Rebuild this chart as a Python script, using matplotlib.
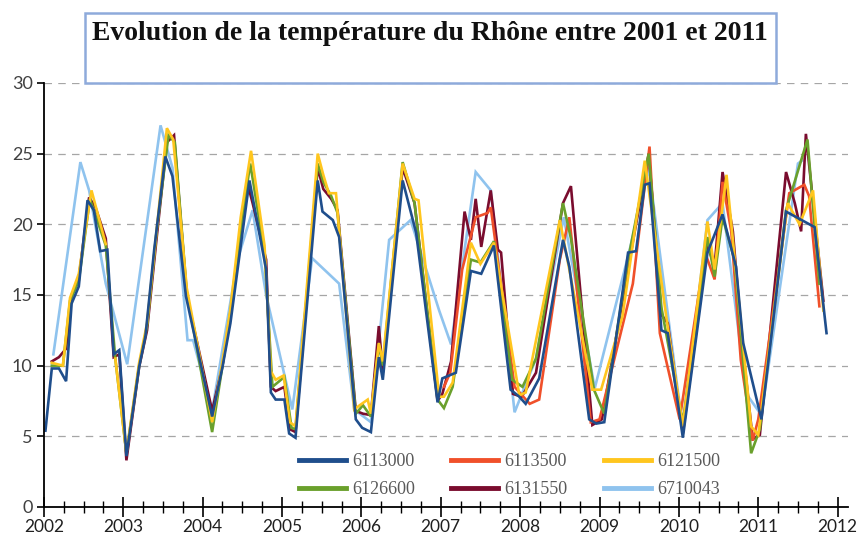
#importe as bibliotecas
import numpy as np
import matplotlib
matplotlib.use("Agg")
import matplotlib.pyplot as plt
from matplotlib.patches import Rectangle
from matplotlib.ticker import MultipleLocator

# températures mensuelles par station (date en année décimale, valeur en °C)
dates_6113000 = [2002.02, 2002.10, 2002.19, 2002.28, 2002.35, 2002.44, 2002.55, 2002.63, 2002.71, 2002.80,
                 2002.88, 2002.95, 2003.04, 2003.20, 2003.28, 2003.39, 2003.53, 2003.62, 2003.79, 2004.12,
                 2004.25, 2004.35, 2004.59, 2004.80, 2004.86, 2004.92, 2005.03, 2005.09, 2005.17, 2005.45,
                 2005.51, 2005.64, 2005.72, 2005.93, 2006.01, 2006.12, 2006.22, 2006.27, 2006.52, 2006.69,
                 2006.96, 2007.02, 2007.19, 2007.38, 2007.51, 2007.67, 2007.88, 2007.99, 2008.07, 2008.24,
                 2008.54, 2008.62, 2008.87, 2008.96, 2009.06, 2009.36, 2009.46, 2009.57, 2009.63, 2009.78,
                 2009.86, 2010.05, 2010.36, 2010.55, 2010.72, 2010.81, 2011.04, 2011.35, 2011.71, 2011.86]
temp_6113000 = [5.4, 9.8, 9.8, 8.9, 14.4, 15.6, 21.7, 21.0, 18.1, 18.2,
                10.8, 11.1, 3.6, 9.9, 12.1, 18.2, 24.8, 23.4, 14.9, 6.4,
                9.9, 13.0, 23.1, 16.8, 8.1, 7.6, 7.6, 5.2, 4.9, 23.1,
                20.9, 20.3, 19.1, 6.2, 5.6, 5.3, 10.6, 9.0, 23.1, 19.4,
                7.4, 9.1, 9.5, 16.7, 16.5, 18.5, 8.3, 7.8, 7.3, 9.1,
                18.9, 17.0, 6.2, 5.9, 6.0, 18.0, 18.1, 22.8, 22.9, 12.5,
                12.3, 4.9, 18.0, 20.7, 17.0, 11.6, 6.2, 20.9, 19.8, 12.3]

dates_6113500 = [2007.04, 2007.12, 2007.27, 2007.44, 2007.59, 2007.63, 2007.93, 2008.12, 2008.24, 2008.50,
                 2008.62, 2008.89, 2009.00, 2009.42, 2009.63, 2009.76, 2010.01, 2010.33, 2010.45, 2010.55,
                 2010.66, 2010.78, 2010.93, 2011.00, 2011.39, 2011.58, 2011.64, 2011.77]
temp_6113500 = [8.5, 9.5, 16.8, 20.5, 20.8, 21.2, 8.5, 7.3, 7.6, 17.5,
                20.5, 6.0, 6.2, 15.8, 25.5, 12.3, 6.2, 18.0, 16.1, 23.0,
                19.5, 10.4, 4.7, 6.2, 22.2, 22.8, 22.0, 14.2]

dates_6121500 = [2002.10, 2002.24, 2002.33, 2002.44, 2002.60, 2002.78, 2002.84, 2002.90, 2003.04, 2003.20,
                 2003.30, 2003.42, 2003.55, 2003.63, 2003.80, 2004.12, 2004.25, 2004.35, 2004.48, 2004.61,
                 2004.78, 2004.86, 2004.92, 2005.02, 2005.10, 2005.17, 2005.45, 2005.52, 2005.59, 2005.68,
                 2005.91, 2005.98, 2006.08, 2006.12, 2006.22, 2006.27, 2006.52, 2006.67, 2006.72, 2006.98,
                 2007.04, 2007.15, 2007.38, 2007.50, 2007.67, 2007.99, 2008.07, 2008.50, 2008.91, 2009.02,
                 2009.29, 2009.57, 2009.84, 2010.05, 2010.36, 2010.45, 2010.60, 2010.68, 2010.91, 2011.00,
                 2011.37, 2011.52, 2011.69, 2011.82]
temp_6121500 = [10.2, 10.0, 14.8, 16.5, 22.4, 18.6, np.nan, 10.5, 3.8, 10.2,
                13.0, 19.5, 26.8, 26.0, 15.5, 6.0, 10.3, 14.0, 20.5, 25.2,
                18.5, 9.6, 9.0, 9.3, 6.0, 5.7, 25.0, 23.5, 22.2, 22.2,
                6.9, 7.2, 7.6, 6.6, 11.6, 10.3, 24.3, 21.8, 21.7, 7.8,
                7.8, 8.8, 18.7, 17.2, 18.7, 7.9, 8.1, 20.3, 8.3, 8.3,
                13.5, 24.5, 13.5, 5.7, 20.2, 16.8, 23.5, 18.9, 5.7, 5.1,
                21.5, 20.0, 22.4, 13.9]

dates_6126600 = [2002.10, 2002.24, 2002.33, 2002.44, 2002.58, 2002.78, 2002.90, 2003.04, 2003.20, 2003.30,
                 2003.42, 2003.57, 2003.65, 2003.80, 2004.12, 2004.25, 2004.35, 2004.50, 2004.60, 2004.78,
                 2004.88, 2005.03, 2005.12, 2005.17, 2005.45, 2005.52, 2005.62, 2005.70, 2005.93, 2006.02,
                 2006.12, 2006.22, 2006.27, 2006.52, 2006.67, 2006.96, 2007.04, 2007.15, 2007.38, 2007.50,
                 2007.67, 2007.90, 2008.03, 2008.20, 2008.54, 2008.64, 2008.93, 2009.06, 2009.36, 2009.62,
                 2009.78, 2009.98, 2010.05, 2010.36, 2010.45, 2010.55, 2010.70, 2010.91, 2011.02, 2011.35,
                 2011.62, 2011.77]
temp_6126600 = [10.0, 10.0, 14.6, 16.0, 21.8, 18.5, 10.5, 3.8, 10.0, 12.8,
                19.5, 26.3, 25.8, 15.2, 5.3, 10.0, 13.8, 20.5, 24.3, 18.0,
                8.5, 9.2, 5.6, 5.5, 24.3, 23.0, 22.0, 20.8, 6.6, 7.2,
                6.4, 11.5, 10.0, 24.4, 21.5, 7.6, 7.0, 8.5, 17.5, 17.3,
                18.8, 9.0, 8.5, 10.5, 21.5, 19.0, 8.3, 6.6, 17.5, 25.0,
                14.1, 8.0, 6.0, 19.1, 16.3, 20.5, 17.5, 3.8, 5.5, 21.0,
                26.0, 15.8]

dates_6131550 = [2002.10, 2002.19, 2002.28, 2002.35, 2002.44, 2002.57, 2002.65, 2002.78, 2002.88, 2002.95,
                 2003.04, 2003.20, 2003.30, 2003.42, 2003.55, 2003.64, 2003.80, 2004.12, 2004.25, 2004.35,
                 2004.56, 2004.63, 2004.80, 2004.86, 2004.92, 2005.03, 2005.10, 2005.17, 2005.45, 2005.52,
                 2005.62, 2005.70, 2005.93, 2006.02, 2006.12, 2006.22, 2006.27, 2006.52, 2006.67, 2006.96,
                 2007.02, 2007.13, 2007.30, 2007.38, 2007.44, 2007.51, 2007.63, 2007.72, 2007.76, 2007.91,
                 2008.02, 2008.20, 2008.54, 2008.64, 2008.91, 2009.03, 2009.38, 2009.62, 2009.78, 2009.86,
                 2010.05, 2010.36, 2010.45, 2010.55, 2010.68, 2010.80, 2010.93, 2011.02, 2011.35, 2011.46,
                 2011.54, 2011.60, 2011.82]
temp_6131550 = [10.3, 10.6, 11.2, 15.0, 16.2, 21.9, 21.2, 19.0, 10.6, 10.8,
                3.3, 9.9, 12.5, 19.0, 25.8, 26.3, 15.0, 6.8, 10.0, 13.5,
                23.0, 21.5, 17.5, 8.5, 8.2, 8.5, 5.5, 5.3, 24.0, 22.5,
                21.8, 21.0, 6.8, 6.6, 6.5, 12.8, 9.5, 24.0, 21.5, 7.5,
                8.0, 10.3, 20.9, 18.9, 21.8, 18.4, 22.4, 18.2, 18.0, 8.0,
                7.8, 9.5, 21.5, 22.7, 5.8, 6.2, 17.5, 25.0, 13.6, 13.0,
                5.2, 18.5, 17.0, 23.7, 19.5, 11.5, 4.8, 5.1, 23.7, 21.5,
                19.5, 26.4, 14.6]

dates_6710043 = [2002.12, 2002.46, 2002.57, 2002.78, 2003.05, 2003.47, 2003.62, 2003.81, 2003.88, 2004.12,
                 2004.44, 2004.63, 2004.80, 2005.13, 2005.38, 2005.72, 2005.91, 2006.12, 2006.35, 2006.62,
                 2006.98, 2007.13, 2007.44, 2007.63, 2007.93, 2008.20, 2008.55, 2008.94, 2009.38, 2009.62,
                 2010.05, 2010.36, 2010.55, 2010.85, 2011.04, 2011.50, 2011.55]
temp_6710043 = [10.8, 24.4, 22.4, 15.8, 10.1, 27.0, 24.0, 11.8, 11.8, 6.8,
                17.5, 21.0, 15.0, 6.9, 17.6, 15.8, 6.9, 6.0, 18.9, 20.3,
                13.9, 11.5, 23.7, 22.4, 6.7, 10.5, 20.5, 8.4, 18.2, 24.0,
                5.5, 20.3, 21.5, 8.0, 6.5, 24.3, 24.5]

stations = ['6113000', '6113500', '6121500', '6126600', '6131550', '6710043']
couleurs = ['#1F4E8C', '#F0502A', '#FFC61E', '#6AA02C', '#7A0C2E', '#8FC3EE']

series = {
    '6113000': (dates_6113000, temp_6113000),
    '6113500': (dates_6113500, temp_6113500),
    '6121500': (dates_6121500, temp_6121500),
    '6126600': (dates_6126600, temp_6126600),
    '6131550': (dates_6131550, temp_6131550),
    '6710043': (dates_6710043, temp_6710043),
}

titre = "Evolution de la température du Rhône entre 2001 et 2011"
annees = list(range(2002, 2013))


def tracer():
    fig = plt.figure(figsize=(8.6, 5.37), dpi=100)
    ax = fig.add_axes([0.051, 0.0559, 0.935, 0.7896])

    # ordre de dessin : les stations du dessus en dernier
    ordre = ['6710043', '6131550', '6113500', '6126600', '6121500', '6113000']
    lignes = {}
    for st in ordre:
        x, y = series[st]
        c = couleurs[stations.index(st)]
        lignes[st], = ax.plot(x, y, color=c, lw=1.9, label=st, solid_joinstyle='miter')

    ax.set_xlim(2002, 2012.13)
    ax.set_ylim(0, 30)

    # grille en pointillés sauf à 0
    for v in range(5, 31, 5):
        ax.axhline(v, color='#A6A6A6', lw=0.9, ls=(0, (6, 5)), zorder=0)

    ax.spines['top'].set_visible(False)
    ax.spines['right'].set_visible(False)
    ax.spines['left'].set_linewidth(1.3)
    ax.spines['bottom'].set_linewidth(1.3)

    ax.yaxis.set_major_locator(MultipleLocator(5))
    ax.set_xticks(annees)
    ax.xaxis.set_minor_locator(MultipleLocator(0.25))
    ax.tick_params(axis='y', direction='out', length=5, width=1.2, labelsize=13,
                   labelcolor='#404040', pad=3)
    ax.tick_params(axis='x', which='major', direction='inout', length=14, width=1.2,
                   labelsize=12.5, labelcolor='#202020', pad=2)
    ax.tick_params(axis='x', which='minor', direction='inout', length=8, width=1.0)
    for lab in ax.get_xticklabels() + ax.get_yticklabels():
        lab.set_family('Lato')

    # légende sur trois colonnes
    ordre_leg = ['6113000', '6126600', '6113500', '6131550', '6121500', '6710043']
    leg = ax.legend([lignes[s] for s in ordre_leg], ordre_leg, ncol=3, frameon=False,
                    loc='lower left', bbox_to_anchor=(0.297, -0.017),
                    handlelength=2.6, handletextpad=0.35, columnspacing=2.0,
                    labelspacing=0.58, prop={'family': 'Liberation Serif', 'size': 13})
    for h in leg.legend_handles:
        h.set_linewidth(3.5)
    for t in leg.get_texts():
        t.set_color('#595959')

    # cadre du titre
    fig.patches.append(Rectangle((85 / 860, 1 - 83 / 537), 691 / 860, 70 / 537,
                                 transform=fig.transFigure, fill=False,
                                 edgecolor='#8EAADB', lw=1.8))
    fig.text(430 / 860, 1 - 33 / 537, titre, ha='center', va='center',
             family='Liberation Serif', weight='bold', fontsize=20, color='#111111')

    fig.savefig('out.png', dpi=100)


if __name__ == "__main__":
    tracer()
